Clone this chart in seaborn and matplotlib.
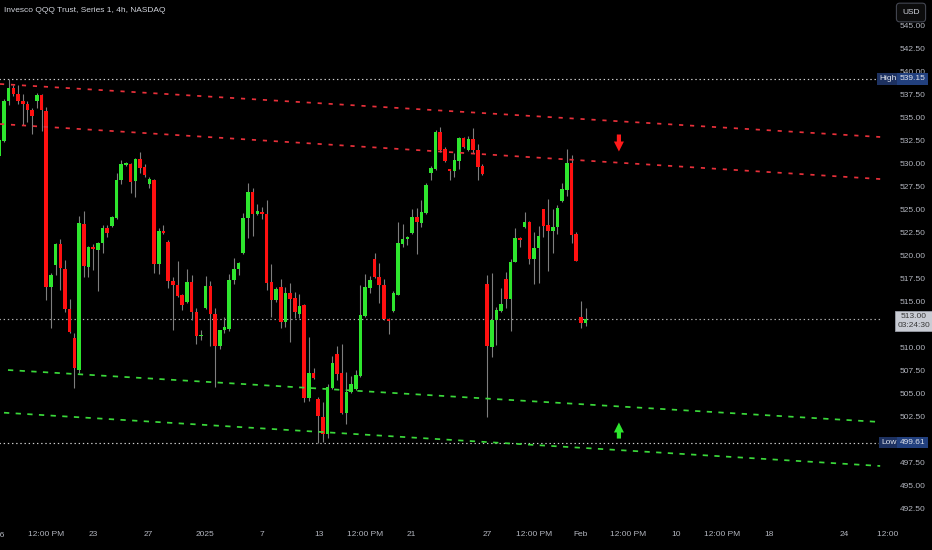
import numpy as np
import pandas as pd
import matplotlib
matplotlib.use("Agg")
import matplotlib.pyplot as plt
import seaborn as sns
from matplotlib import font_manager as fm
from matplotlib.transforms import Bbox, TransformedBbox, blended_transform_factory

# ---------------- data ----------------
title = "Invesco QQQ Trust, Series 1, 4h, NASDAQ"

opens = [530.76, 532.39, 536.74, 538.15, 537.50, 536.74, 536.41, 535.76, 536.74, 537.39,
         535.65, 516.52, 518.91, 521.20, 518.48, 514.13, 510.98, 507.50, 523.37, 518.70,
         520.87, 520.54, 521.30, 522.93, 523.15, 524.02, 528.15, 529.78, 529.89, 528.04,
         530.43, 529.57, 527.72, 528.15, 519.02, 522.61, 521.41, 517.17, 516.74, 515.65,
         514.89, 517.07, 513.80, 511.20, 514.24, 516.63, 513.59, 510.11, 511.85, 511.96,
         517.28, 518.48, 520.22, 524.02, 526.85, 524.46, 524.67, 524.46, 517.07, 515.11,
         516.52, 512.72, 515.87, 515.33, 513.59, 514.57, 504.46, 507.17, 504.35, 502.39,
         500.54, 505.54, 509.24, 507.17, 502.83, 505.11, 505.43, 506.85, 513.37, 516.41,
         519.57, 517.61, 516.74, 513.04, 513.91, 515.65, 521.20, 521.74, 522.39, 524.13,
         523.48, 524.57, 528.91, 529.35, 533.37, 531.52, 529.35, 529.13, 530.22, 532.72,
         531.41, 532.61, 531.41, 529.67, 516.85, 510.00, 512.93, 513.91, 517.39, 515.22,
         519.24, 521.85, 523.04, 523.59, 519.57, 520.76, 525.00, 523.26, 522.61, 523.04,
         525.87, 527.07, 530.00, 522.28, 513.26, 512.61]
highs = [532.72, 536.96, 539.15, 538.48, 538.48, 537.50, 536.74, 535.98, 537.61, 537.50,
         536.09, 518.04, 521.30, 521.74, 519.46, 515.22, 511.52, 524.24, 524.78, 520.98,
         521.20, 521.41, 523.26, 523.26, 524.24, 528.91, 530.33, 530.11, 530.00, 530.50,
         531.20, 529.89, 528.48, 528.26, 522.93, 523.26, 521.63, 517.61, 519.35, 515.76,
         518.48, 517.83, 514.24, 511.85, 517.72, 517.17, 514.24, 511.90, 513.26, 517.93,
         519.68, 519.20, 524.57, 527.83, 527.28, 525.54, 525.22, 525.98, 519.02, 516.52,
         517.39, 516.52, 516.96, 515.98, 515.76, 514.67, 511.09, 507.72, 504.57, 504.02,
         505.98, 509.02, 510.11, 510.33, 507.28, 506.85, 507.50, 516.74, 517.93, 517.72,
         520.22, 519.13, 517.39, 513.15, 516.09, 523.59, 523.37, 522.07, 525.00, 525.11,
         525.98, 527.83, 529.67, 533.59, 533.91, 531.74, 529.40, 531.09, 532.83, 532.83,
         532.93, 533.80, 532.07, 529.89, 517.83, 518.04, 514.35, 516.41, 518.15, 519.57,
         522.93, 521.96, 524.67, 523.65, 522.50, 523.15, 525.05, 526.09, 525.00, 525.43,
         527.83, 531.52, 530.87, 522.50, 515.00, 514.24]
lows = [530.54, 532.28, 536.30, 537.28, 536.41, 534.13, 534.46, 533.15, 535.98, 533.48,
        515.11, 512.07, 517.83, 516.20, 513.80, 511.52, 505.54, 507.17, 517.61, 517.61,
        518.37, 516.09, 520.22, 521.96, 523.04, 523.91, 527.72, 529.67, 526.74, 526.30,
        528.91, 528.48, 527.28, 518.04, 517.93, 522.30, 516.41, 511.85, 515.43, 514.02,
        514.80, 512.93, 510.33, 510.76, 514.15, 510.11, 505.65, 509.78, 511.52, 511.74,
        516.85, 517.83, 520.15, 521.85, 522.07, 524.35, 523.91, 516.20, 513.26, 514.89,
        512.07, 512.17, 510.54, 513.15, 513.15, 504.02, 504.13, 506.55, 499.61, 499.65,
        500.11, 505.43, 506.41, 502.75, 501.63, 505.00, 505.33, 506.74, 513.26, 515.87,
        517.55, 514.78, 512.93, 511.41, 513.85, 515.60, 520.87, 521.09, 522.30, 520.11,
        523.04, 524.50, 528.15, 529.24, 531.20, 530.11, 528.15, 528.48, 529.35, 531.63,
        531.35, 531.09, 528.15, 528.75, 502.39, 508.91, 510.22, 513.80, 514.24, 511.74,
        519.20, 520.87, 522.93, 519.02, 516.85, 516.96, 521.96, 518.26, 520.22, 522.28,
        525.80, 526.41, 521.30, 519.30, 512.07, 512.28]
closes = [532.50, 536.74, 538.15, 537.50, 536.74, 536.41, 535.76, 535.11, 537.39, 535.76,
          516.52, 517.83, 521.20, 518.59, 514.13, 511.63, 507.72, 523.48, 518.80, 520.87,
          520.65, 521.30, 522.93, 522.39, 524.13, 528.15, 529.89, 530.00, 527.93, 530.43,
          529.46, 528.70, 528.26, 519.02, 522.61, 522.39, 517.17, 516.74, 515.54, 514.57,
          517.07, 513.80, 511.20, 511.31, 516.63, 513.59, 510.11, 511.85, 512.17, 517.28,
          518.48, 519.13, 524.02, 526.85, 524.46, 524.78, 524.46, 516.96, 515.11, 516.30,
          512.72, 515.87, 515.22, 513.80, 514.46, 504.46, 507.17, 506.63, 502.50, 500.54,
          505.65, 508.26, 507.07, 502.83, 505.11, 505.98, 506.96, 513.48, 516.52, 517.28,
          517.61, 516.74, 513.04, 512.83, 515.87, 521.30, 521.74, 521.96, 524.13, 523.59,
          524.67, 527.61, 529.46, 533.37, 531.41, 530.22, 529.13, 530.33, 532.72, 531.74,
          532.61, 531.41, 529.57, 528.80, 510.11, 512.93, 514.02, 514.67, 515.22, 519.24,
          521.85, 521.63, 523.59, 519.57, 520.76, 522.07, 523.15, 522.61, 523.04, 525.11,
          527.17, 530.00, 522.17, 519.35, 512.61, 513.00]

# x-axis labels (positions in bar units)
tick_pos = [10.06, 19.98, 31.81, 43.86, 56.0, 68.16, 77.97, 87.78, 104.0, 114.0,
            124.0, 134.0, 144.2, 154.1, 164.2, 180.2, 191.0]
tick_labels = ["12:00 PM", "23", "27", "2025", "7", "13", "12:00 PM", "21", "27", "12:00 PM",
               "Feb", "12:00 PM", "10", "12:00 PM", "18", "24", "12:00 PM"]
first_label, first_pos = "16", 0.05

# price axis
y_ticks = [492.5 + 2.5 * k for k in range(22)]
price_high = 539.15
price_low = 499.61
price_last = 513.00
countdown = "03:24:30"
currency = "USD"

# trend channels: (x0, x1) bars and (y0, y1) prices
res_upper_x, res_upper_y = [0.15, 187.8], [538.59, 532.83]
res_lower_x, res_lower_y = [0.15, 187.8], [534.24, 528.26]
sup_upper_x, sup_upper_y = [1.85, 187.8], [507.50, 501.85]
sup_lower_x, sup_lower_y = [1.0, 187.8], [502.86, 497.07]
line_end = 187.8

# arrows: (bar, tail price, tip price)
arrow_down = (132.1, 533.10, 531.25)
arrow_up = (132.1, 500.05, 501.80)

# ---------------- style ----------------
sns.set_theme(style="dark", rc={
    "axes.facecolor": "black", "figure.facecolor": "black",
    "axes.edgecolor": "black", "axes.grid": False,
    "lines.scale_dashes": False,
})
_names = {f.name for f in fm.fontManager.ttflist}
if "Liberation Sans Narrow" in _names:
    FAM, FS = "Liberation Sans Narrow", 6.6
elif "Liberation Sans" in _names:
    FAM, FS = "Liberation Sans", 6.0
else:
    FAM, FS = "DejaVu Sans", 5.4
plt.rcParams["font.family"] = [FAM, "DejaVu Sans"]

GREEN = "#2ee62e"
RED = "#ff1010"
WICK = "#7e7e7e"
TXT = "#b2b5be"

W, H = 932, 550
fig = plt.figure(figsize=(W / 100, H / 100), dpi=100)
ax = fig.add_axes([0, 28 / H, 898 / W, 522 / H])
ax.set_facecolor("black")

df = pd.DataFrame({"open": opens, "high": highs, "low": lows, "close": closes})
df["bar"] = np.arange(len(df))
df["up"] = df["close"] >= df["open"]
df["bottom"] = df[["open", "close"]].min(axis=1)
df["height"] = (df["close"] - df["open"]).abs().clip(lower=0.12)

# wicks
ax.vlines(df["bar"], df["low"], df["high"], colors=WICK, linewidth=0.8, zorder=2)
# bodies
ax.bar(df["bar"], df["height"], bottom=df["bottom"], width=0.76,
       color=np.where(df["up"], GREEN, RED), linewidth=0, zorder=3)

# trend channel lines
for xs, ys, col, dash in [(res_upper_x, res_upper_y, "#e8303a", (3.0, 4.9)),
                          (res_lower_x, res_lower_y, "#e8303a", (3.0, 4.9)),
                          (sup_upper_x, sup_upper_y, "#3ad83a", (3.8, 4.6)),
                          (sup_lower_x, sup_lower_y, "#3ad83a", (3.8, 4.6))]:
    sns.lineplot(x=xs, y=ys, ax=ax, color=col, linewidth=1.25,
                 linestyle=(0, dash), zorder=4)

# high / low / last dotted lines
ax.hlines([price_high, price_low], 0, line_end, colors="#cfcfcf",
          linewidth=0.85, linestyles=[(0, (1.0, 2.0))], zorder=1)
ax.hlines([price_last], 0, line_end, colors="#b0b0b0",
          linewidth=0.85, linestyles=[(0, (1.0, 2.0))], zorder=1)

# arrows
for (bx, y0, y1), col in [(arrow_down, "#ff1a1a"), (arrow_up, "#2ee62e")]:
    ax.annotate("", xy=(bx, y1), xytext=(bx, y0),
                arrowprops=dict(arrowstyle="simple,head_length=0.72,head_width=0.72,tail_width=0.3",
                                color=col, lw=0, shrinkA=0, shrinkB=0, mutation_scale=10),
                zorder=6)

# limits
ax.set_xlim(0.147, 191.6)
ax.set_ylim(490.98, 547.72)

# y axis on right
ax.yaxis.tick_right()
ax.set_yticks(y_ticks)
ax.set_yticklabels([f"{v:.2f}" for v in y_ticks])
ax.tick_params(axis="y", length=0, pad=1.4, labelsize=FS, labelcolor=TXT)
# x axis
ax.set_xticks(tick_pos)
ax.set_xticklabels(tick_labels)
ax.tick_params(axis="x", length=0, pad=6.6, labelsize=FS, labelcolor=TXT)
for s in ax.spines.values():
    s.set_visible(False)
ax.set_xlabel("")
ax.set_ylabel("")
if ax.get_legend():
    ax.get_legend().remove()

# clip the last x label at the price-scale edge
clip = TransformedBbox(Bbox.from_extents(0, 0, 899 / W, 1), fig.transFigure)
last = ax.xaxis.get_major_ticks()[-1].label1
last.set_clip_box(clip)
last.set_clip_on(True)

# partially visible first date label
bt = blended_transform_factory(ax.transData, ax.transAxes)
ax.text(first_pos, -13.5 / 522, first_label, transform=bt, ha="center", va="center",
        fontsize=FS, color=TXT, clip_on=False)

# price badges
by = blended_transform_factory(ax.transAxes, ax.transData)
for label, val, lx in [("High", price_high, 888.0), ("Low", price_low, 889.0)]:
    ax.text(lx / 898, val, label, transform=by, ha="center", va="center", fontsize=FS,
            color="#e0e3eb", clip_on=False, zorder=20,
            bbox=dict(boxstyle="square,pad=0.28", fc="#1d3160", ec="none"))
    ax.text(912.5 / 898, val, f"{val:.2f}", transform=by, ha="center", va="center", fontsize=FS,
            color="#e0e3eb", clip_on=False, zorder=21,
            bbox=dict(boxstyle="square,pad=0.28", fc="#22407e", ec="none"))
ax.text(914.0 / 898, price_last - 0.2, f"{price_last:.2f}\n{countdown}", transform=by,
        ha="center", va="center", fontsize=FS, color="#3a3a3a", linespacing=1.35,
        clip_on=False, zorder=20,
        bbox=dict(boxstyle="square,pad=0.28", fc="#c9ccd4", ec="#9a9ea8", lw=0.6))

# currency box
fig.text(911 / W, 1 - 12.5 / H, currency, ha="center", va="center", fontsize=FS,
         color="#d1d4dc", zorder=30,
         bbox=dict(boxstyle="round,pad=0.7,rounding_size=0.4", fc="#0c0c0c", ec="#434651", lw=0.8))

# title
fig.text(4 / W, 1 - 10.5 / H, title, ha="left", va="center", fontsize=FS, color="#d1d4dc")

fig.savefig("out.png", dpi=100, facecolor="black")
